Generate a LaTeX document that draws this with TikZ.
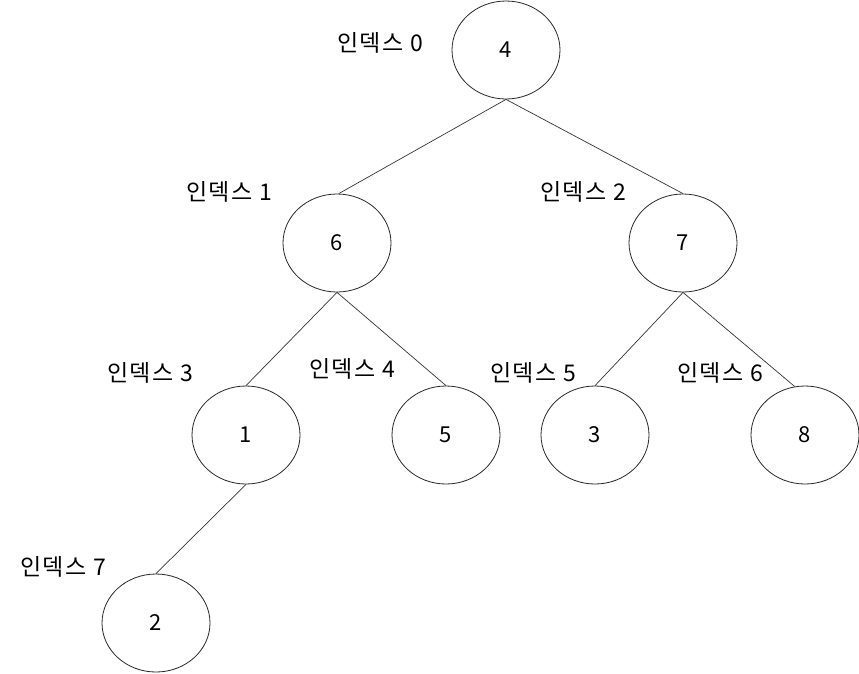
\documentclass[tikz,border=0pt]{standalone}
\usepackage{fontspec}
\setmainfont{Noto Sans CJK KR}
\newfontfamily\lblfont[LetterSpace=6]{Noto Sans CJK KR}
\usetikzlibrary{shapes.geometric}
\begin{document}
\begin{tikzpicture}[x=1pt,y=-1pt,
  heapnode/.style={draw=black!85,line width=0.8pt,ellipse,minimum width=108pt,minimum height=98pt,inner sep=0pt,font=\fontsize{22}{24}\selectfont},
  idxlabel/.style={inner sep=0pt,font=\lblfont\fontsize{23}{26}\selectfont},
  edge/.style={draw=black!80,line width=0.7pt}]
\useasboundingbox (0,0) rectangle (859,673);
\node[heapnode] (n0) at (506,50) {4};
\node[heapnode] (n1) at (337,243) {6};
\node[heapnode] (n2) at (683,243) {7};
\node[heapnode] (n3) at (246,435) {1};
\node[heapnode] (n4) at (446,435) {5};
\node[heapnode] (n5) at (595,435) {3};
\node[heapnode] (n6) at (805,435) {8};
\node[heapnode] (n7) at (156,623) {2};
\node[idxlabel] (l0) at (380,43) {인덱스 0};
\node[idxlabel] (l1) at (229,192) {인덱스 1};
\node[idxlabel] (l2) at (583,192) {인덱스 2};
\node[idxlabel] (l3) at (150,373) {인덱스 3};
\node[idxlabel] (l4) at (352,369) {인덱스 4};
\node[idxlabel] (l5) at (533,373) {인덱스 5};
\node[idxlabel] (l6) at (720,373) {인덱스 6};
\node[idxlabel] (l7) at (63,567) {인덱스 7};
\draw[edge] (n0.south) -- (n1.88);
\draw[edge] (n0.south) -- (n2.north);
\draw[edge] (n1.south) -- (n3.north);
\draw[edge] (n1.south) -- (n4.north);
\draw[edge] (n2.south) -- (n5.north);
\draw[edge] (n2.south) -- (n6.102);
\draw[edge] (n3.south) -- (n7.north);
\end{tikzpicture}
\end{document}
